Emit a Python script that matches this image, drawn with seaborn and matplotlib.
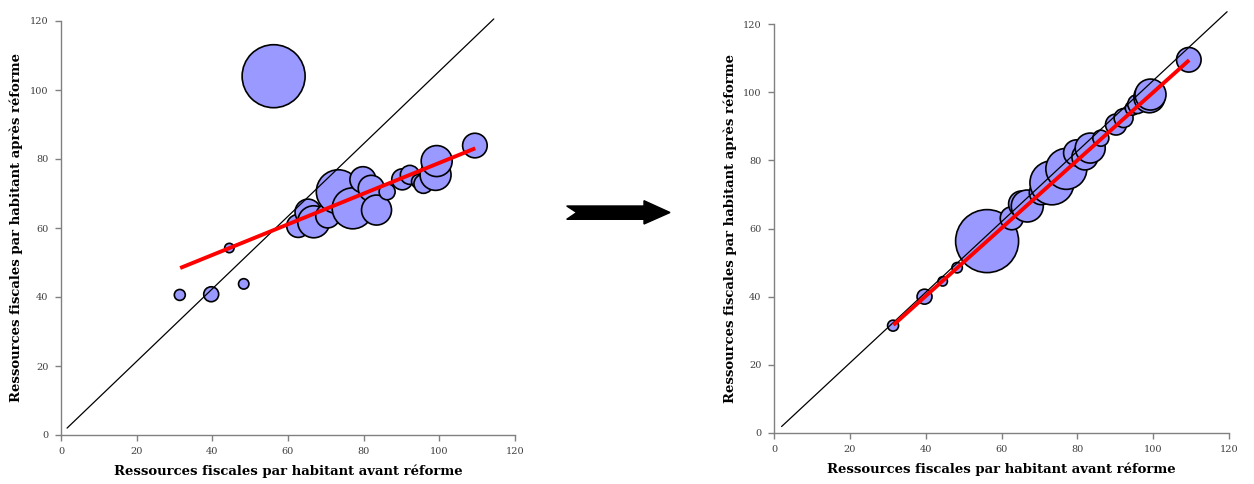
import numpy as np
import pandas as pd
import matplotlib
matplotlib.use("Agg")
import matplotlib.pyplot as plt
from matplotlib.patches import Polygon
import seaborn as sns

# ---- data ----
avant = [31.4, 39.7, 44.5, 48.3, 56.2, 62.7, 65.3, 66.8, 70.5, 73.3, 77.1,
         79.8, 82.0, 83.4, 86.2, 90.2, 92.2, 94.5, 95.8, 99.0, 99.3, 109.4]
apres_gauche = [40.6, 40.8, 54.2, 43.8, 104.0, 60.6, 64.6, 61.8, 63.5, 70.5, 65.7,
                74.0, 71.5, 65.2, 70.5, 74.1, 75.4, 73.5, 72.8, 75.4, 79.4, 83.9]
apres_droite = [31.5, 40.0, 44.5, 48.5, 56.3, 63.0, 67.2, 66.6, 70.5, 73.4, 77.5,
                82.2, 81.0, 83.6, 86.5, 90.5, 92.4, 95.3, 96.5, 98.5, 99.3, 109.5]
population = [30, 56, 22, 27, 992, 132, 169, 256, 144, 484, 420,
              169, 169, 225, 64, 110, 90, 49, 90, 240, 240, 151]

diag_x_gauche = [1.6, 114.4]
diag_y_gauche = [2.0, 120.6]
diag_x_droite = [2.0, 119.5]
diag_y_droite = [1.9, 123.6]

tend_x = [31.5, 109.5]
tend_y_gauche = [48.4, 83.1]
tend_y_droite = [31.7, 109.4]

ticks = [0, 20, 40, 60, 80, 100, 120]
xlabel = "Ressources fiscales par habitant avant réforme"
ylabel = "Ressources fiscales par habitant après réforme"

# ---- style ----
sns.set_style("white")
plt.rcParams['font.family'] = ['DejaVu Serif']

W, H = 1254, 484
fig = plt.figure(figsize=(W / 100, H / 100), dpi=100)

def px_axes(x0, x1, ytop, ybot):
    return fig.add_axes([x0 / W, 1 - ybot / H, (x1 - x0) / W, (ybot - ytop) / H])

ax1 = px_axes(61, 515, 21, 435)
ax2 = px_axes(774, 1229, 24, 433)

pmax = max(population)
smax = 2.0736 * pmax

for ax, yv, dx, dy, ty, ylc in [(ax1, apres_gauche, diag_x_gauche, diag_y_gauche, tend_y_gauche, -0.084),
                                (ax2, apres_droite, diag_x_droite, diag_y_droite, tend_y_droite, -0.081)]:
    df = pd.DataFrame({"avant": avant, "apres": yv, "pop": population})
    sns.scatterplot(data=df, x="avant", y="apres", size="pop",
                    sizes=(0, smax), size_norm=(0, pmax),
                    color="#9999FF", edgecolor="black", linewidth=1.2,
                    alpha=1, legend=False, ax=ax, zorder=2)
    sns.lineplot(x=dx, y=dy, color="black", linewidth=0.9, ax=ax, zorder=3)
    ax.lines[-1].set_clip_on(False)
    sns.lineplot(x=tend_x, y=ty, color="#FF0000", linewidth=2.8, ax=ax, zorder=4)
    ax.lines[-1].set_solid_capstyle("butt")

    ax.set_xlim(0, 120)
    ax.set_ylim(0, 120)
    ax.set_xticks(ticks)
    ax.set_yticks(ticks)
    ax.set_xticklabels([str(t) for t in ticks])
    ax.set_yticklabels([str(t) for t in ticks])
    for side in ["top", "right"]:
        ax.spines[side].set_visible(False)
    for side in ["left", "bottom"]:
        ax.spines[side].set_color("#808080")
        ax.spines[side].set_linewidth(1.0)
    ax.tick_params(axis="both", direction="out", length=4, width=1.0,
                   color="#808080", labelsize=7, labelcolor="#404040", pad=5,
                   left=True, bottom=True)
    ax.set_xlabel(xlabel, fontsize=9.5, fontweight="bold", color="black")
    ax.set_ylabel(ylabel, fontsize=9.5, fontweight="bold", color="black")
    ax.xaxis.set_label_coords(0.5, -0.072)
    ax.yaxis.set_label_coords(ylc, 0.5)
    ax.set_facecolor("white")
    ax.grid(False)

# block arrow between the two charts (figure pixels)
arrow_px = [(566.7, 206.0), (576.7, 212.5), (566.7, 219.3), (644.0, 219.3),
            (644.0, 224.0), (670.0, 212.5), (644.0, 200.7), (644.0, 206.0)]
arrow = Polygon([(x / W, 1 - y / H) for x, y in arrow_px], closed=True,
                transform=fig.transFigure, facecolor="black", edgecolor="black")
fig.patches.append(arrow)

fig.savefig("out.png", dpi=100, facecolor="white")
